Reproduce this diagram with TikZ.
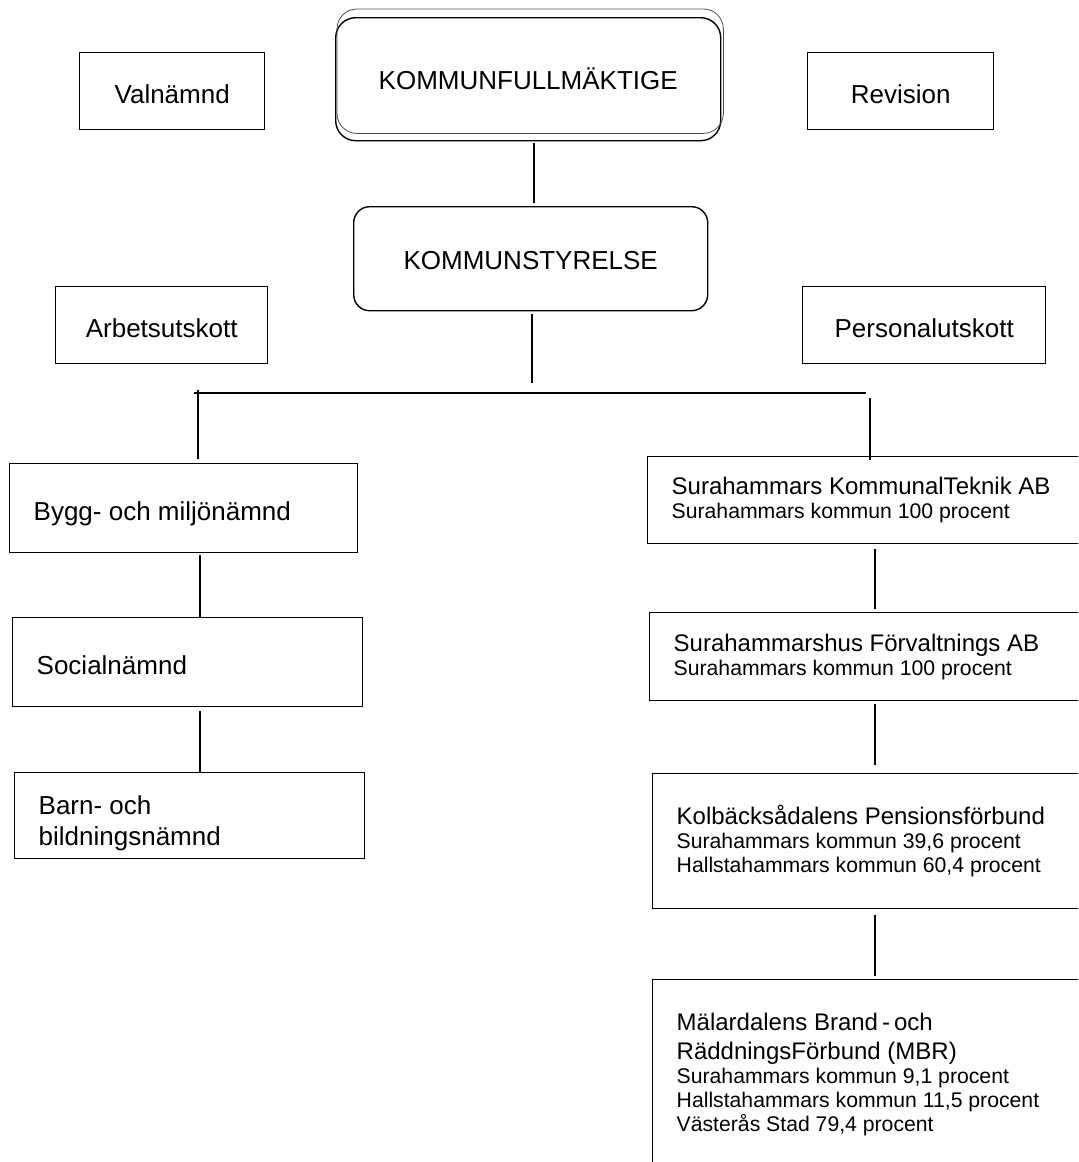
\documentclass[tikz,border=0pt]{standalone}
\usepackage{fontspec}
\setmainfont{Liberation Sans}
\newcommand\hdfont{\fontsize{12}{14.5}\selectfont}
\newcommand\smfont{\fontsize{10.6}{12}\selectfont}
\begin{document}
\begin{tikzpicture}[x=0.5pt,y=-0.5pt,
        plain box/.style={draw, line width=0.7pt, anchor=north west,
           inner sep=0pt, font=\fontsize{13}{15.5}\selectfont},
        one line/.style={text height=12.5pt, text depth=0pt},
        round box/.style={plain box, rounded corners=8pt},
        text box/.style={plain box, inner xsep=12pt, align=flush left},
        link line/.style={line width=0.7pt},
        shadow line/.style={line width=0.4pt, black!70},
    ]
    \useasboundingbox (0,0) rectangle (1078,1162);
    \clip (0,0) rectangle (1078,1162);

    % top row
    \node[round box, rounded corners=10pt, minimum width=192.5pt, minimum height=61.5pt]
        (kf) at (335,17) {KOMMUNFULLMÄKTIGE};
    \draw[shadow line, rounded corners=10pt]
        ([shift={(1pt,4pt)}]kf.north west) rectangle ([shift={(1pt,4pt)}]kf.south east);
    \node[plain box, one line, minimum width=92.5pt, minimum height=38.5pt] (valn) at (79,52) {Valnämnd};
    \node[plain box, one line, minimum width=93pt, minimum height=38.5pt] (rev) at (807,52) {Revision};
    \node[round box, text height=11pt, text depth=0pt, minimum width=177pt, minimum height=52pt]
        (ks) at (353,206) {KOMMUNSTYRELSE};
    \node[plain box, one line, minimum width=106pt, minimum height=38.5pt] (arb) at (55,286) {Arbetsutskott};
    \node[plain box, one line, minimum width=121.5pt, minimum height=38.5pt] (pers) at (802,286) {Personalutskott};

    % left column
    \node[text box, one line, text width=150pt, minimum height=44.5pt] (bygg) at (9,463) {Bygg- och miljönämnd};
    \node[text box, one line, text width=151pt, minimum height=44.5pt] (social) at (12,617) {Socialnämnd};
    \node[text box, text height=16pt, text depth=17.7pt, text width=151pt, minimum height=43pt]
        (barn) at (14,772) {Barn- och\\bildningsnämnd};

    % right column
    \node[text box, text width=197.5pt, minimum height=43.5pt] (kt) at (647,456)
        {\hdfont Surahammars KommunalTeknik AB\par
         \smfont Surahammars kommun 100 procent\par};
    \node[text box, text width=196.5pt, minimum height=44pt] (hus) at (649,612)
        {\hdfont Surahammarshus Förvaltnings AB\par
         \smfont Surahammars kommun 100 procent\par};
    \node[text box, text width=195pt, minimum height=67.5pt] (kolb) at (652,773)
        {\hdfont Kolbäcksådalens Pensionsförbund\par
         \smfont Surahammars kommun 39,6 procent\\Hallstahammars kommun 60,4 procent\par};
    \node[text box, text width=195pt, minimum height=95pt] (mbr) at (652,979)
        {\hdfont Mälardalens Brand\,-\,och\\RäddningsFörbund (MBR)\par
         \smfont Surahammars kommun 9,1 procent\\Hallstahammars kommun 11,5 procent\\Västerås Stad 79,4 procent\par};

    % connectors
    \coordinate (kfstem) at (534,0);
    \coordinate (ksfoot) at (532,383);
    \coordinate (busleft) at (194,393);
    \coordinate (busright) at (866,393);
    \coordinate (dropleft) at (198,390);
    \coordinate (dropright) at (870,398);
    \coordinate (leftspine) at (200,0);
    \coordinate (rightspine) at (875,0);

    \draw[link line, shorten <=1pt, shorten >=1.5pt] (kf.south -| kfstem) -- (ks.north -| kfstem);
    \draw[link line, shorten <=1.5pt] (ks.south -| ksfoot) -- (ksfoot);
    \draw[link line] (busleft) -- (busright);
    \draw[link line, shorten >=2pt] (dropleft) -- (dropleft |- bygg.north);
    \draw[link line, shorten >=-2pt] (dropright) -- (dropright |- kt.north);
    \draw[link line, shorten <=1pt] (bygg.south -| leftspine) -- (social.north -| leftspine);
    \draw[link line, shorten <=2pt] (social.south -| leftspine) -- (barn.north -| leftspine);
    \draw[link line, shorten <=2.5pt, shorten >=1.5pt] (kt.south -| rightspine) -- (hus.north -| rightspine);
    \draw[link line, shorten <=1.5pt, shorten >=4pt] (hus.south -| rightspine) -- (kolb.north -| rightspine);
    \draw[link line, shorten <=3pt, shorten >=1.5pt] (kolb.south -| rightspine) -- (mbr.north -| rightspine);
\end{tikzpicture}
\end{document}
